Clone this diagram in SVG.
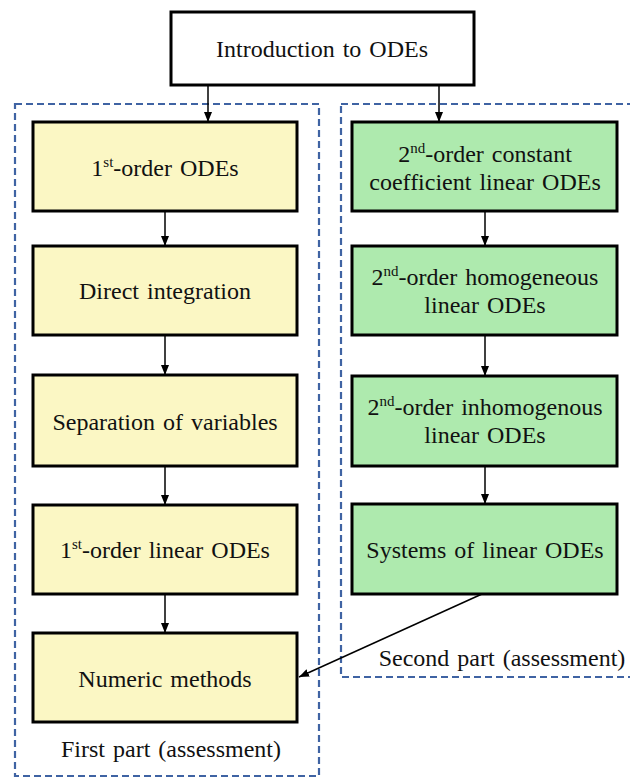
<svg xmlns="http://www.w3.org/2000/svg" width="630" height="778" viewBox="0 0 630 778">
<style>
text{font-family:"Times New Roman",Times,"Liberation Serif",Tinos,"Noto Serif","DejaVu Serif",FreeSerif,serif;font-size:24px;fill:#111;text-anchor:middle;word-spacing:2px}
.sup{font-size:15px}
.box{stroke:#000;stroke-width:3}
.y{fill:#FBF7C4}
.g{fill:#AEEAAE}
.grp{fill:none;stroke:#3F63A3;stroke-width:2.2;stroke-dasharray:7 4}
.c{stroke:#000;stroke-width:1.5;fill:none}
</style>
<defs>
<marker id="ah" markerWidth="10" markerHeight="10" viewBox="0 0 10 10" refX="10" refY="5" orient="auto" markerUnits="userSpaceOnUse">
<path d="M0,1 L10,5 L0,9 Z" fill="#000"/>
</marker>
</defs>
<rect width="630" height="778" fill="#fff"/>
<g id="group-first">
<rect class="grp" x="15" y="104" width="304" height="672"/>
<text x="171" y="757">First part (assessment)</text>
</g>
<g id="group-second">
<rect class="grp" x="341" y="104" width="295" height="573"/>
<text x="502" y="666">Second part (assessment)</text>
</g>
<g id="connectors">
<line class="c" x1="208" y1="85" x2="208" y2="122" marker-end="url(#ah)"/>
<line class="c" x1="439" y1="85" x2="439" y2="122" marker-end="url(#ah)"/>
<line class="c" x1="165" y1="211" x2="165" y2="246" marker-end="url(#ah)"/>
<line class="c" x1="165" y1="335" x2="165" y2="375" marker-end="url(#ah)"/>
<line class="c" x1="165" y1="466" x2="165" y2="505" marker-end="url(#ah)"/>
<line class="c" x1="165" y1="594" x2="165" y2="633" marker-end="url(#ah)"/>
<line class="c" x1="485" y1="211" x2="485" y2="246" marker-end="url(#ah)"/>
<line class="c" x1="485" y1="335" x2="485" y2="376" marker-end="url(#ah)"/>
<line class="c" x1="485" y1="466" x2="485" y2="504" marker-end="url(#ah)"/>
<line class="c" x1="482" y1="594" x2="299" y2="677" marker-end="url(#ah)"/>
</g>
<g id="intro">
<rect class="box" x="171" y="12" width="303" height="73" fill="#fff"/>
<text x="322" y="57">Introduction to ODEs</text>
</g>
<g id="first-order">
<rect class="box y" x="33" y="122" width="264" height="89"/>
<text x="165" y="176">1<tspan class="sup" dy="-9">st</tspan><tspan dy="9">-order ODEs</tspan></text>
</g>
<g id="direct-integration">
<rect class="box y" x="33" y="246" width="264" height="89"/>
<text x="165" y="299">Direct integration</text>
</g>
<g id="separation">
<rect class="box y" x="33" y="375" width="264" height="91"/>
<text x="165" y="430">Separation of variables</text>
</g>
<g id="first-order-linear">
<rect class="box y" x="33" y="505" width="264" height="89"/>
<text x="165" y="558">1<tspan class="sup" dy="-9">st</tspan><tspan dy="9">-order linear ODEs</tspan></text>
</g>
<g id="numeric">
<rect class="box y" x="33" y="633" width="264" height="89"/>
<text x="165" y="687">Numeric methods</text>
</g>
<g id="second-const">
<rect class="box g" x="352" y="122" width="265" height="89"/>
<text x="485" y="162">2<tspan class="sup" dy="-9">nd</tspan><tspan dy="9">-order constant</tspan></text>
<text x="485" y="190">coefficient linear ODEs</text>
</g>
<g id="second-homog">
<rect class="box g" x="352" y="246" width="265" height="89"/>
<text x="485" y="285">2<tspan class="sup" dy="-9">nd</tspan><tspan dy="9">-order homogeneous</tspan></text>
<text x="485" y="313">linear ODEs</text>
</g>
<g id="second-inhomog">
<rect class="box g" x="352" y="376" width="265" height="90"/>
<text x="485" y="415">2<tspan class="sup" dy="-9">nd</tspan><tspan dy="9">-order inhomogenous</tspan></text>
<text x="485" y="443">linear ODEs</text>
</g>
<g id="systems">
<rect class="box g" x="352" y="504" width="265" height="90"/>
<text x="485" y="558">Systems of linear ODEs</text>
</g>
</svg>
